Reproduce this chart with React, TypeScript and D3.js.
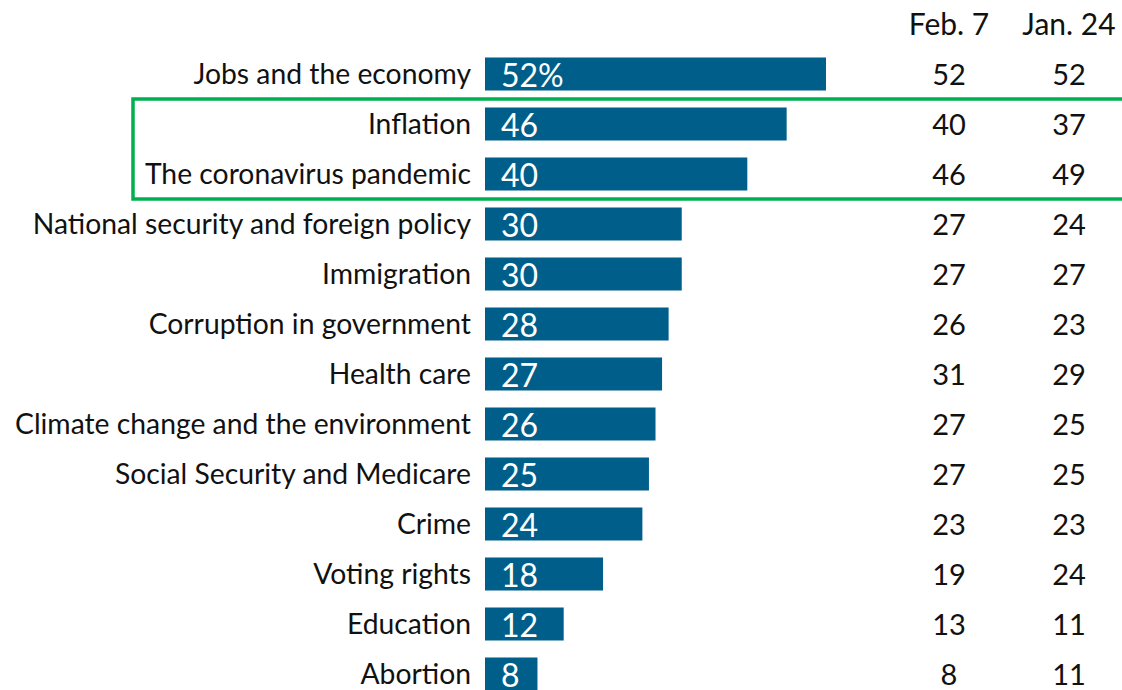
import React from "react";
import * as d3 from "d3";

const categories = [
  "Jobs and the economy",
  "Inflation",
  "The coronavirus pandemic",
  "National security and foreign policy",
  "Immigration",
  "Corruption in government",
  "Health care",
  "Climate change and the environment",
  "Social Security and Medicare",
  "Crime",
  "Voting rights",
  "Education",
  "Abortion",
];
const current = [52, 46, 40, 30, 30, 28, 27, 26, 25, 24, 18, 12, 8];
const feb7 = [52, 40, 46, 27, 27, 26, 31, 27, 27, 23, 19, 13, 8];
const jan24 = [52, 37, 49, 24, 27, 23, 29, 25, 25, 23, 24, 11, 11];
const columnHeaders = ["Feb. 7", "Jan. 24"];
const highlighted = ["Inflation", "The coronavirus pandemic"];

const W = 1122;
const H = 690;
const FONT = "Lato, 'Noto Sans', sans-serif";
const BAR = "#005f8a";
const GREEN = "#00b050";

export default function App() {
  const x = d3.scaleLinear().domain([0, 52]).range([485, 826]);
  const y = d3
    .scaleBand<string>()
    .domain(categories)
    .range([49, 699])
    .paddingInner(0.34)
    .paddingOuter(0.17);
  const bw = y.bandwidth();
  const step = y.step();
  const colX = [949, 1069];
  const hTop = (y(highlighted[0]) as number) - (step - bw) / 2;
  const hBot = (y(highlighted[highlighted.length - 1]) as number) + bw + (step - bw) / 2;

  return (
    <svg
      width={W}
      height={H}
      style={{ position: "absolute", left: 0, top: 0, background: "#fff" }}
      fontFamily={FONT}
    >
      {columnHeaders.map((h, j) => (
        <text
          key={h}
          x={colX[j]}
          y={23}
          textAnchor="middle"
          dominantBaseline="central"
          fontSize={30}
          fill="#111"
        >
          {h}
        </text>
      ))}
      {categories.map((c, i) => {
        const yc = (y(c) as number) + bw / 2;
        return (
          <g key={c}>
            <text
              x={471}
              y={yc - 1}
              textAnchor="end"
              dominantBaseline="central"
              fontSize={28.3}
              fill="#111"
            >
              {c}
            </text>
            <rect x={x(0)} y={y(c)} width={x(current[i]) - x(0)} height={bw} fill={BAR} />
            <text
              x={x(0) + 16}
              y={yc}
              dominantBaseline="central"
              fontSize={32}
              fill="#fff"
            >
              {i === 0 ? `${current[i]}%` : current[i]}
            </text>
            <text x={colX[0]} y={yc - 1} textAnchor="middle" dominantBaseline="central" fontSize={29} fill="#111">
              {feb7[i]}
            </text>
            <text x={colX[1]} y={yc - 1} textAnchor="middle" dominantBaseline="central" fontSize={29} fill="#111">
              {jan24[i]}
            </text>
          </g>
        );
      })}
      <rect
        x={133}
        y={hTop}
        width={1120 - 133 + 10}
        height={hBot - hTop}
        fill="none"
        stroke={GREEN}
        strokeWidth={3.5}
      />
    </svg>
  );
}
